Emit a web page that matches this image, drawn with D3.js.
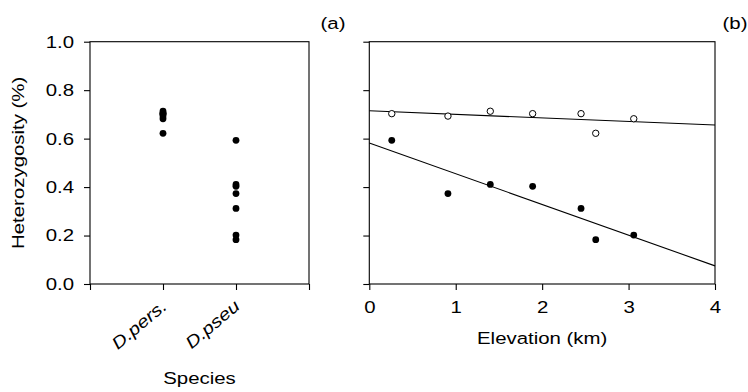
<!DOCTYPE html>
<html lang="en">
<head>
<meta charset="utf-8">
<title>Heterozygosity vs species and elevation</title>
<script src="https://d3js.org/d3.v7.min.js"></script>
<style>
  body { margin: 0; background: #fff; }
  text { font-family: "Liberation Sans", Arial, sans-serif; fill: #000; }
</style>
</head>
<body>
<script>
// elevation (km) of each sampled site
var elevation = [0.26, 0.91, 1.40, 1.89, 2.45, 2.62, 3.06];
// heterozygosity of D. persimilis (open circles) and D. pseudoobscura (filled)
var hetPers = [0.703, 0.693, 0.713, 0.703, 0.703, 0.622, 0.682];
var hetPseu = [0.593, 0.373, 0.411, 0.403, 0.312, 0.183, 0.202];
var species = ["D.pers.", "D.pseu"];
var yTicks = [0, 0.2, 0.4, 0.6, 0.8, 1.0];
var xTicksB = [0, 1, 2, 3, 4];

var W = 748, H = 392;
var plotTop = 41.7, plotBottom = 284;
var fs = 17, stretch = 1.2; // the original lettering is a bit wide

var svg = d3.select("body").append("svg")
    .attr("width", W)
    .attr("height", H);

var y = d3.scaleLinear().domain([0, 1]).range([plotBottom, plotTop]);

// least squares fit
function fit(xs, ys) {
    var mx = d3.mean(xs), my = d3.mean(ys);
    var sxy = d3.sum(xs, function(d, i) { return (d - mx) * (ys[i] - my); });
    var sxx = d3.sum(xs, function(d) { return (d - mx) * (d - mx); });
    var b = sxy / sxx;
    return { a: my - b * mx, b: b };
}

// text placed at x,y, optionally rotated, then widened
function label(g, x, y, str, anchor, rot) {
    return g.append("text")
        .attr("transform", "translate(" + x + "," + y + ")" + (rot ? " rotate(" + rot + ")" : "") + " scale(" + stretch + ",1)")
        .attr("text-anchor", anchor || "middle")
        .attr("font-size", fs)
        .text(str);
}

// move axis tick text into a transform so it can be widened
function widenTicks(g) {
    g.selectAll(".tick text").each(function() {
        var t = d3.select(this);
        var tx = +t.attr("x") || 0, ty = +t.attr("y") || 0;
        t.attr("x", 0).attr("y", 0)
            .attr("transform", "translate(" + tx + "," + ty + ") scale(" + stretch + ",1)")
            .attr("font-size", fs)
            .attr("font-family", "'Liberation Sans', Arial, sans-serif");
    });
    g.selectAll("line").attr("stroke", "#000").attr("stroke-width", 1.1);
    g.select(".domain").remove();
}

// ---------- panel (a) ----------
var xa = d3.scaleLinear().domain([0, 3]).range([90, 309]);

var ga = svg.append("g");

ga.append("rect")
    .attr("x", xa(0)).attr("y", plotTop)
    .attr("width", xa(3) - xa(0)).attr("height", plotBottom - plotTop)
    .attr("fill", "none").attr("stroke", "#000").attr("stroke-width", 1.1);

ga.append("g")
    .attr("transform", "translate(" + xa(0) + ",0)")
    .call(d3.axisLeft(y).tickValues(yTicks).tickFormat(d3.format(".1f")).tickSize(6).tickPadding(10))
    .call(widenTicks);

ga.append("g")
    .attr("transform", "translate(0," + plotBottom + ")")
    .call(d3.axisBottom(xa).tickValues([0, 1, 2, 3]).tickSize(6).tickFormat(""))
    .call(widenTicks);

species.forEach(function(s, i) {
    label(ga, xa(i + 1) + 5, plotBottom + 24, s, "end", -40)
        .attr("font-style", "italic");
});

ga.selectAll("circle.pers")
    .data(hetPers).enter().append("circle")
    .attr("cx", xa(1)).attr("cy", function(d) { return y(d); })
    .attr("r", 3.4).attr("fill", "#000");

ga.selectAll("circle.pseu")
    .data(hetPseu).enter().append("circle")
    .attr("cx", xa(2)).attr("cy", function(d) { return y(d); })
    .attr("r", 3.4).attr("fill", "#000");

label(ga, (xa(0) + xa(3)) / 2, 384, "Species");
label(ga, 23.5, (plotTop + plotBottom) / 2, "Heterozygosity (%)", "middle", -90);
label(ga, 333, 29, "(a)");

// ---------- panel (b) ----------
var xb = d3.scaleLinear().domain([0, 4]).range([369.3, 715]);

var gb = svg.append("g");

gb.append("rect")
    .attr("x", xb(0)).attr("y", plotTop)
    .attr("width", xb(4) - xb(0)).attr("height", plotBottom - plotTop)
    .attr("fill", "none").attr("stroke", "#000").attr("stroke-width", 1.1);

gb.append("g")
    .attr("transform", "translate(" + xb(0) + ",0)")
    .call(d3.axisLeft(y).tickValues(yTicks).tickSize(6).tickFormat(""))
    .call(widenTicks);

gb.append("g")
    .attr("transform", "translate(0," + plotBottom + ")")
    .call(d3.axisBottom(xb).tickValues(xTicksB).tickFormat(d3.format("d")).tickSize(6).tickPadding(11))
    .call(widenTicks);

// regression lines
[hetPers, hetPseu].forEach(function(ys) {
    var f = fit(elevation, ys);
    gb.append("line")
        .attr("x1", xb(0)).attr("y1", y(f.a))
        .attr("x2", xb(4)).attr("y2", y(f.a + f.b * 4))
        .attr("stroke", "#000").attr("stroke-width", 1.1);
});

gb.selectAll("circle.open")
    .data(hetPers).enter().append("circle")
    .attr("cx", function(d, i) { return xb(elevation[i]); })
    .attr("cy", function(d) { return y(d); })
    .attr("r", 3.2).attr("fill", "#fff").attr("stroke", "#000").attr("stroke-width", 1);

gb.selectAll("circle.fill")
    .data(hetPseu).enter().append("circle")
    .attr("cx", function(d, i) { return xb(elevation[i]); })
    .attr("cy", function(d) { return y(d); })
    .attr("r", 3.4).attr("fill", "#000");

label(gb, (xb(0) + xb(4)) / 2, 344, "Elevation (km)");
label(gb, 735, 29, "(b)");
</script>
</body>
</html>
